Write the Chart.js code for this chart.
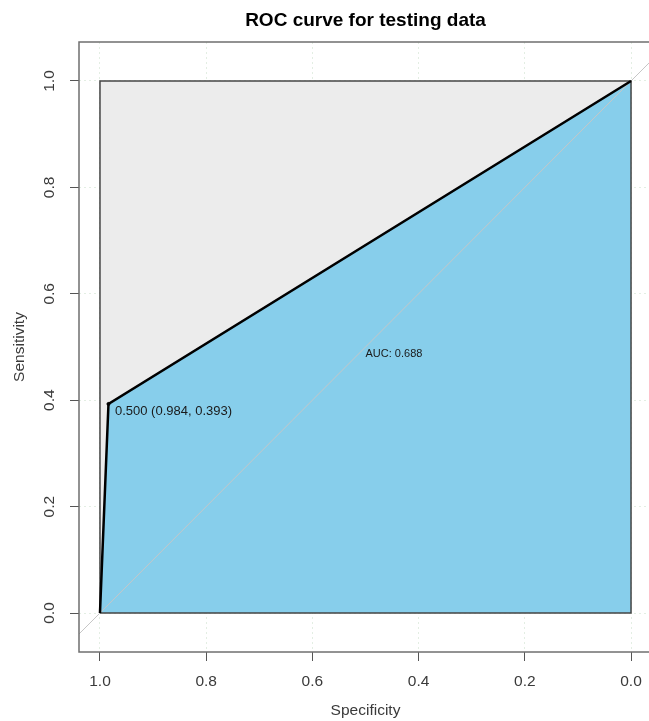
<!DOCTYPE html>
<html>
<head>
<meta charset="utf-8">
<title>ROC curve for testing data</title>
<script src="https://cdn.jsdelivr.net/npm/chart.js@4.4.1/dist/chart.umd.min.js"></script>
<style>
html, body { margin: 0; padding: 0; overflow: hidden; background: #fff; }
#wrap { width: 660px; height: 721px; }
</style>
</head>
<body>
<div id="wrap"><canvas id="roc-chart" width="660" height="721" style="width:660px;height:721px"></canvas></div>
<script>
// ROC data (specificity on x, reversed; sensitivity on y)
const rocSpecificity = [1.0, 0.984, 0.0];
const rocSensitivity = [0.0, 0.393, 1.0];

// best possible curve (grey polygon)
const maxAreaSpecificity = [1.0, 0.0];
const maxAreaSensitivity = [1.0, 1.0];
const maxBorderSpecificity = [1.0, 1.0, 0.0, 0.0, 1.0];
const maxBorderSensitivity = [0.0, 1.0, 1.0, 0.0, 0.0];

// chance line, runs past the plot edges and gets clipped
const chanceSpecificity = [1.2, -0.2];
const chanceSensitivity = [-0.2, 1.2];

const thresholdValue = 0.5;
const thresholdSpecificity = [0.984];
const thresholdSensitivity = [0.393];
const aucValue = 0.688;

const tickValues = [0.0, 0.2, 0.4, 0.6, 0.8, 1.0];

const fontFamily = '"Liberation Sans", Arial, Helvetica, sans-serif';

function toPoints(xs, ys) {
    return xs.map((x, i) => ({ x: x, y: ys[i] }));
}

// frame round the plot + the two text labels
const extrasPlugin = {
    id: 'extras',
    afterDatasetsDraw(chart) {
        const ctx = chart.ctx;
        const xScale = chart.scales.x;
        const yScale = chart.scales.y;
        const area = chart.chartArea;

        ctx.save();
        ctx.fillStyle = '#1a1a1a';

        ctx.font = '11px ' + fontFamily;
        ctx.textAlign = 'left';
        ctx.textBaseline = 'top';
        ctx.fillText('AUC: ' + aucValue.toFixed(3), xScale.getPixelForValue(0.5), yScale.getPixelForValue(0.5) + 1);

        const px = xScale.getPixelForValue(thresholdSpecificity[0]);
        const py = yScale.getPixelForValue(thresholdSensitivity[0]);
        ctx.font = '13px ' + fontFamily;
        ctx.textBaseline = 'middle';
        const thresText = thresholdValue.toFixed(3) + ' (' + thresholdSpecificity[0].toFixed(3) + ', ' + thresholdSensitivity[0].toFixed(3) + ')';
        ctx.fillText(thresText, px + 6.5, py + 7);

        ctx.strokeStyle = '#6f6f6f';
        ctx.lineWidth = 1.5;
        ctx.strokeRect(area.left, area.top, area.right - area.left, area.bottom - area.top);
        ctx.restore();
    }
};

function fixedTicks(scale) {
    scale.ticks = tickValues.map(v => ({ value: v }));
}

const config = {
    type: 'scatter',
    data: {
        datasets: [
            {
                data: toPoints(maxAreaSpecificity, maxAreaSensitivity),
                showLine: true,
                fill: 'origin',
                backgroundColor: '#ececec',
                borderWidth: 0,
                pointRadius: 0,
                order: 6
            },
            {
                data: toPoints(rocSpecificity, rocSensitivity),
                showLine: true,
                fill: 'origin',
                backgroundColor: '#87ceeb',
                borderWidth: 0,
                pointRadius: 0,
                order: 5
            },
            {
                data: toPoints(chanceSpecificity, chanceSensitivity),
                showLine: true,
                borderColor: '#c6c6c6',
                borderWidth: 1,
                pointRadius: 0,
                fill: false,
                order: 4
            },
            {
                data: toPoints(maxBorderSpecificity, maxBorderSensitivity),
                showLine: true,
                borderColor: '#454545',
                borderWidth: 1.5,
                pointRadius: 0,
                fill: false,
                order: 3
            },
            {
                data: toPoints(rocSpecificity, rocSensitivity),
                showLine: true,
                borderColor: '#000000',
                borderWidth: 2.5,
                pointRadius: 0,
                fill: false,
                order: 2
            },
            {
                data: toPoints(thresholdSpecificity, thresholdSensitivity),
                showLine: false,
                backgroundColor: '#000000',
                borderColor: '#000000',
                pointRadius: 1.5,
                order: 1
            }
        ]
    },
    options: {
        responsive: false,
        animation: false,
        events: [],
        layout: { padding: { left: 0, right: 8, top: 0, bottom: 0 } },
        plugins: {
            legend: { display: false },
            tooltip: { enabled: false },
            title: {
                display: true,
                text: 'ROC curve for testing data',
                fullSize: false,
                color: '#000',
                font: { family: fontFamily, size: 19, weight: 'bold', lineHeight: 1.2 },
                padding: { top: 9.6, bottom: 9.6 }
            }
        },
        scales: {
            x: {
                type: 'linear',
                reverse: true,
                min: -0.0395,
                max: 1.0395,
                bounds: 'data',
                afterBuildTicks: fixedTicks,
                ticks: {
                    callback: v => v.toFixed(1),
                    color: '#3a3a3a',
                    padding: 13.25,
                    maxRotation: 0,
                    autoSkip: false,
                    font: { family: fontFamily, size: 15.5, lineHeight: 1 }
                },
                grid: {
                    color: '#e3eee3',
                    lineWidth: 1,
                    drawOnChartArea: true,
                    tickLength: 9,
                    tickColor: '#555',
                    tickWidth: 1
                },
                border: { display: false, dash: [2, 3] },
                title: {
                    display: true,
                    text: 'Specificity',
                    color: '#3a3a3a',
                    font: { family: fontFamily, size: 15.5, lineHeight: 1 },
                    padding: { top: 0, bottom: 2.5 }
                }
            },
            y: {
                type: 'linear',
                min: -0.0733,
                max: 1.0733,
                bounds: 'data',
                afterBuildTicks: fixedTicks,
                ticks: {
                    callback: v => v.toFixed(1),
                    color: '#3a3a3a',
                    padding: 9.25,
                    minRotation: 90,
                    maxRotation: 90,
                    crossAlign: 'center',
                    autoSkip: false,
                    font: { family: fontFamily, size: 15.5, lineHeight: 1 }
                },
                grid: {
                    color: '#e3eee3',
                    lineWidth: 1,
                    drawOnChartArea: true,
                    tickLength: 9,
                    tickColor: '#555',
                    tickWidth: 1
                },
                border: { display: false, dash: [2, 3] },
                title: {
                    display: true,
                    text: 'Sensitivity',
                    color: '#3a3a3a',
                    font: { family: fontFamily, size: 15.5, lineHeight: 1 },
                    padding: { top: 12, bottom: 8.5 }
                }
            }
        }
    },
    plugins: [extrasPlugin]
};

const chart = new Chart(document.getElementById('roc-chart'), config);
</script>
</body>
</html>
